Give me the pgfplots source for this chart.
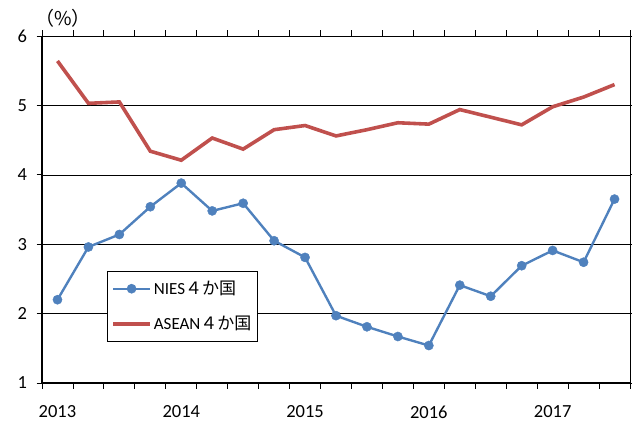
\documentclass[border=0pt]{standalone}
\usepackage{pgfplots}
\pgfplotsset{compat=1.18}
\usepackage{fontspec}
\setmainfont{Carlito}
\newfontfamily\jp{Noto Sans CJK JP}

\definecolor{niesblue}{HTML}{4F81BD}
\definecolor{aseanred}{HTML}{C0504D}

% Quarterly growth rates, 2013Q1 to 2017Q3
\pgfplotstableread{
q  nies  asean
0  2.20  5.64
1  2.96  5.03
2  3.14  5.05
3  3.54  4.34
4  3.88  4.21
5  3.48  4.53
6  3.59  4.37
7  3.05  4.65
8  2.81  4.71
9  1.97  4.56
10 1.81  4.65
11 1.67  4.75
12 1.54  4.73
13 2.41  4.94
14 2.25  4.83
15 2.69  4.72
16 2.91  4.98
17 2.74  5.12
18 3.65  5.30
}\growth

\begin{document}
\begin{tikzpicture}
\path[use as bounding box] (0,0) rectangle (632bp,423bp);
\begin{axis}[
  at={(42bp,40bp)}, anchor=south west,
  scale only axis, width=588bp, height=347bp,
  xmin=-0.5, xmax=18.5, ymin=1, ymax=6,
  tick label style={font=\fontsize{18.5bp}{22bp}\selectfont},
  /pgf/number format/assume math mode=true,
  axis line style={black, line width=0.6pt},
  xtick={-0.5,0.5,...,18.5}, xticklabels={},
  x tick style={black, line width=0.9pt},
  xtick align=outside, major tick length=5.5bp,
  extra x ticks={0,4,8,12,16},
  extra x tick labels={2013,2014,2015,2016,2017},
  extra x tick style={major tick length=0pt, grid=none,
    xticklabel style={yshift=-19bp}},
  ytick={1,...,6},
  y tick style={black, line width=0.9pt},
  ytick align=outside,
  yticklabel style={xshift=-6bp},
  ymajorgrids, grid style={black, line width=0.6pt},
  legend style={at={(rel axis cs:0.1105,0.323)}, anchor=north west,
    draw=black, line width=0.6pt, font=\fontsize{17bp}{20bp}\selectfont,
    row sep=16bp, inner xsep=4bp, inner ysep=8bp},
  legend cell align=left,
  legend image code/.code={
    \draw[mark repeat=2,mark phase=2,#1]
      plot coordinates {(0bp,0bp) (18.5bp,0bp) (37bp,0bp)};},
  clip=false,
]
\addplot[color=niesblue, line width=2.4pt, mark=*, mark size=4.6bp,
  mark options={solid, fill=niesblue, draw=niesblue, line width=0.4pt}]
  table[x=q, y=nies] {\growth};
\addlegendentry{NIES{\jp ４か国}}
\addplot[color=aseanred, line width=3.6pt, no marks]
  table[x=q, y=asean] {\growth};
\addlegendentry{ASEAN{\jp ４か国}}
\draw[black, line width=1.6pt] (rel axis cs:0,1) -- (rel axis cs:0,0) -- (rel axis cs:1,0);
\node[font=\fontsize{19bp}{22bp}\selectfont\jp] at (rel axis cs:0.036,1.052) {（\%）};
\end{axis}
\end{tikzpicture}
\end{document}
